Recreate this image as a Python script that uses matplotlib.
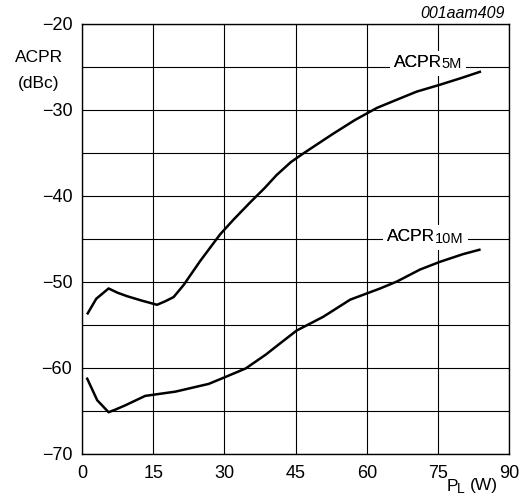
import numpy as np
import matplotlib
matplotlib.use('Agg')
from matplotlib import pyplot as plt

plt.rcParams['font.family'] = ['Liberation Sans', 'DejaVu Sans']

# ACPR 5 MHz offset
pl_5m = [1.2, 3.0, 5.6, 7.5, 9.5, 12.5, 15.8, 17.5, 19.3, 21.4, 24.9, 29.1, 31.9,
         35.4, 38.5, 41.0, 44.0, 46.6, 52.9, 57.5, 62.1, 66.5, 70.5, 75.4, 80.0, 83.8]
acpr_5m = [-53.7, -52.0, -50.8, -51.3, -51.7, -52.2, -52.7, -52.3, -51.8, -50.4, -47.6, -44.5, -42.8,
           -40.8, -39.1, -37.6, -36.1, -35.1, -32.8, -31.2, -29.8, -28.8, -27.9, -27.1, -26.3, -25.6]

# ACPR 10 MHz offset
pl_10m = [1.1, 3.2, 5.6, 7.0, 9.1, 13.3, 19.7, 26.7, 30.2, 34.5, 38.7, 41.7, 45.2,
          48.0, 50.8, 56.5, 62.8, 66.3, 71.2, 75.4, 80.3, 83.7]
acpr_10m = [-61.3, -63.8, -65.2, -64.9, -64.4, -63.3, -62.8, -61.9, -61.1, -60.1, -58.5, -57.2, -55.7,
            -54.9, -54.1, -52.1, -50.8, -50.0, -48.6, -47.7, -46.8, -46.3]

fig = plt.figure(figsize=(5.27, 5.01), dpi=100)
ax = fig.add_axes([0.1556, 0.0948, 0.8108, 0.8579])

ax.plot(pl_5m, acpr_5m, color='black', lw=1.8, zorder=4)
ax.plot(pl_10m, acpr_10m, color='black', lw=1.8, zorder=4)

ax.set_xlim(0, 90)
ax.set_ylim(-70, -20)
ax.set_xticks(np.arange(0, 91, 15))
ax.set_yticks(np.arange(-70, -19, 10))
ax.set_yticks(np.arange(-65, -20, 10), minor=True)
ax.set_yticklabels(['\u221270', '\u221260', '\u221250', '\u221240', '\u221230', '\u221220'])
ax.grid(True, which='both', color='black', lw=0.8)
ax.set_axisbelow(True)
ax.tick_params(which='both', length=0, labelsize=13)
ax.tick_params(axis='y', pad=7)
ax.tick_params(axis='x', pad=8)
for s in ax.spines.values():
    s.set_linewidth(1.0)
    s.set_color('black')


def curve_label(x, y, sub):
    # white boxes break the grid line, text drawn again on top so the boxes don't clip it
    box = dict(facecolor='white', edgecolor='none', pad=3)
    t = ax.text(x, y, 'ACPR', fontsize=12.5, ha='left', va='baseline', bbox=box, zorder=3)
    ax.annotate(sub, xy=(1, 0), xycoords=t, xytext=(-0.5, 1.0), textcoords='offset points',
                fontsize=10.5, ha='left', va='baseline', bbox=box, zorder=3.1)
    ax.text(x, y, 'ACPR', fontsize=12.5, ha='left', va='baseline', zorder=3.2)


curve_label(65.7, -25.0, '5M')
curve_label(64.3, -45.3, '10M')

fig.text(0.074, 0.886, 'ACPR', fontsize=12.5, ha='center', va='center')
fig.text(0.074, 0.834, '(dBc)', fontsize=12.5, ha='center', va='center')
p = fig.text(0.847, 0.02, 'P', fontsize=12.5, ha='left', va='baseline')
sub = ax.annotate('L', xy=(1, 0), xycoords=p, xytext=(-0.5, 1.0), textcoords='offset points',
                  fontsize=10, ha='left', va='baseline', annotation_clip=False)
ax.annotate('(W)', xy=(1, 0), xycoords=sub, xytext=(3.5, 3.7), textcoords='offset points',
            fontsize=12.5, ha='left', va='baseline', annotation_clip=False)
fig.text(0.957, 0.974, '001aam409', fontsize=11.5, style='italic', ha='right', va='center')

fig.savefig('out.png', dpi=100)
